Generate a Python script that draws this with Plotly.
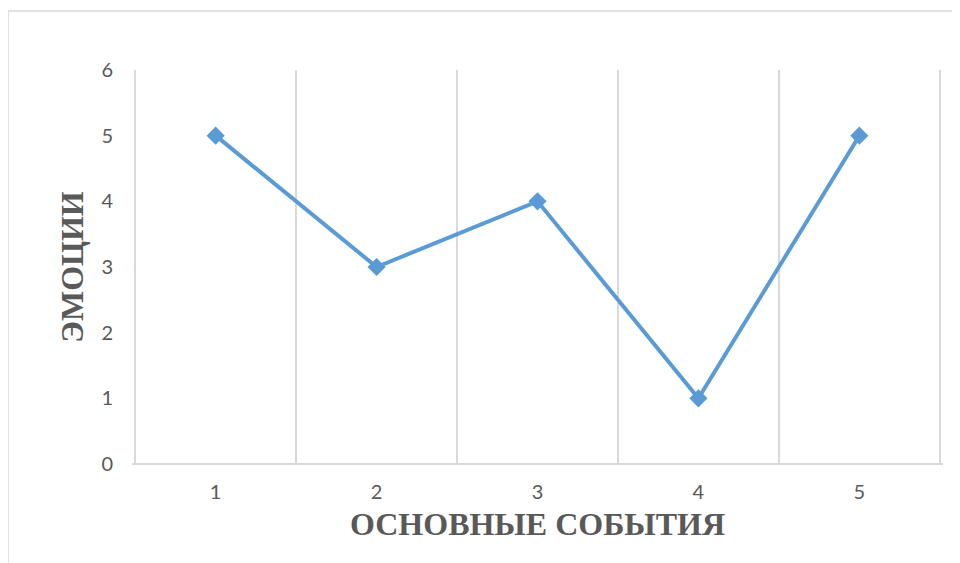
import plotly.graph_objects as go

# data
events = ["1", "2", "3", "4", "5"]
emotions = [5, 3, 4, 1, 5]
y_ticks = [0, 1, 2, 3, 4, 5, 6]

x_title = "ОСНОВНЫЕ СОБЫТИЯ"
y_title = "ЭМОЦИИ"

BLUE = "#5b9bd5"
GRID = "#d9d9d9"
TEXT = "#595959"

fig = go.Figure()
fig.add_trace(
    go.Scatter(
        x=events,
        y=emotions,
        mode="lines+markers",
        line=dict(color=BLUE, width=4),
        marker=dict(symbol="diamond", size=14, color=BLUE),
        showlegend=False,
        hoverinfo="skip",
    )
)

title_font = dict(family="Liberation Serif, Times New Roman, serif", size=32, color=TEXT, weight="bold")
tick_font = dict(family="Lato, Carlito, Calibri, sans-serif", size=20, color=TEXT)

fig.update_xaxes(
    type="category",
    # a bit wider than the category span: plotly drops gridlines within 1px of the ends
    range=[-0.52, 4.52],
    tickson="boundaries",
    showgrid=True,
    gridcolor=GRID,
    gridwidth=1.5,
    showline=False,
    ticks="",
    ticklabelstandoff=14,
    tickfont=tick_font,
    title=dict(text=x_title, font=title_font, standoff=10),
)
fig.update_yaxes(
    range=[0, 6],
    tickvals=y_ticks,
    showgrid=False,
    zeroline=True,
    zerolinecolor=GRID,
    zerolinewidth=1.5,
    showline=False,
    ticks="",
    ticklabelstandoff=18,
    tickfont=tick_font,
    title=dict(text=y_title, font=title_font, standoff=8),
)

# light frame around the chart, like the source spreadsheet chart
fig.add_shape(
    type="rect", xref="paper", yref="paper",
    x0=-0.1529, x1=1.05, y0=-0.3, y1=1.1497,
    line=dict(color=GRID, width=1.5),
    layer="below",
)

# the page adds an 8px body margin, so the figure is pulled up/left by that much
fig.update_layout(
    width=960,
    height=563,
    margin=dict(l=124, r=25, t=62, b=107),
    paper_bgcolor="white",
    plot_bgcolor="white",
)

fig.write_html("out.html")
